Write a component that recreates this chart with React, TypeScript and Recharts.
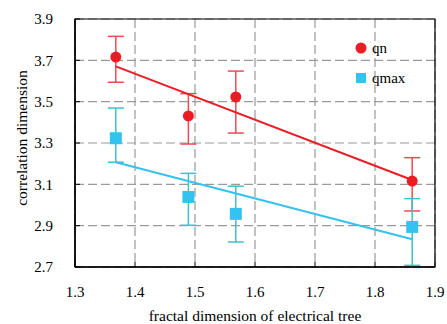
import { ScatterChart, Scatter, XAxis, YAxis, CartesianGrid, ErrorBar, ReferenceArea } from "recharts";

const fractalDim = [1.368, 1.489, 1.568, 1.862];

const qnValues = [3.716, 3.431, 3.523, 3.116];
const qnErrLow = [0.122, 0.136, 0.175, 0.145];
const qnErrHigh = [0.1, 0.108, 0.125, 0.113];

const qmaxValues = [3.323, 3.039, 2.957, 2.894];
const qmaxErrLow = [0.116, 0.137, 0.136, 0.186];
const qmaxErrHigh = [0.146, 0.114, 0.134, 0.137];

// fit line end points
const fitX = [1.368, 1.862];
const qnFitY = [3.671, 3.121];
const qmaxFitY = [3.207, 2.834];

const xTicks = [1.3, 1.4, 1.5, 1.6, 1.7, 1.8, 1.9];
const yTicks = [2.7, 2.9, 3.1, 3.3, 3.5, 3.7, 3.9];

const RED = "#ec1c24";
const BLUE = "#33c3ee";

const qnData = fractalDim.map((x, i) => ({ x, y: qnValues[i], err: [qnErrLow[i], qnErrHigh[i]] }));
const qmaxData = fractalDim.map((x, i) => ({ x, y: qmaxValues[i], err: [qmaxErrLow[i], qmaxErrHigh[i]] }));
const qnFit = fitX.map((x, i) => ({ x, y: qnFitY[i] }));
const qmaxFit = fitX.map((x, i) => ({ x, y: qmaxFitY[i] }));

const font = "'Liberation Serif', 'Times New Roman', serif";

function LegendBox() {
  return (
    <div style={{ position: "absolute", left: 355, top: 33, fontFamily: font, fontSize: 15, color: "#000" }}>
      <div style={{ display: "flex", alignItems: "center", height: 30 }}>
        <svg width={12} height={12} style={{ marginRight: 5 }}>
          <circle cx={6} cy={6} r={5.5} fill={RED} />
        </svg>
        qn
      </div>
      <div style={{ display: "flex", alignItems: "center", height: 30 }}>
        <svg width={12} height={12} style={{ marginRight: 5 }}>
          <rect x={1} y={1} width={10} height={10} fill={BLUE} />
        </svg>
        qmax
      </div>
    </div>
  );
}

const YTitle = (props: any) => {
  const vb = props.viewBox || {};
  const cx = 21;
  const cy = (vb.y ?? 19) + (vb.height ?? 248) / 2 - 5;
  return (
    <text x={cx} y={cy} transform={`rotate(-90 ${cx} ${cy})`} textAnchor="middle" dominantBaseline="central" fill="#000" fontFamily={font} fontSize={15.5}>
      correlation dimension
    </text>
  );
};

export default function App() {
  return (
    <div style={{ position: "absolute", left: 0, top: 0, width: 447, height: 324, background: "#fff", fontFamily: font }}>
      <ScatterChart width={447} height={324} margin={{ top: 19, right: 12, bottom: 0, left: 0 }} style={{ fontFamily: font }}>
        <CartesianGrid stroke="#9a9a9a" strokeDasharray="9 4" strokeWidth={1.2} />
        <XAxis
          type="number"
          dataKey="x"
          domain={[1.3, 1.9]}
          ticks={xTicks}
          tickFormatter={(v: number) => v.toFixed(1)}
          height={57}
          tickSize={-5}
          tickMargin={24}
          axisLine={{ stroke: "#000", strokeWidth: 1.5 }}
          tickLine={{ stroke: "#000" }}
          tick={{ fill: "#000", fontFamily: font, fontSize: 15 }}
          label={{ value: "fractal dimension of electrical tree", position: "insideBottom", offset: 3, fill: "#000", fontFamily: font, fontSize: 15.5 }}
          allowDataOverflow
        />
        <YAxis
          type="number"
          dataKey="y"
          domain={[2.7, 3.9]}
          ticks={yTicks}
          tickFormatter={(v: number) => v.toFixed(1)}
          width={75}
          tickSize={-5}
          tickMargin={27}
          axisLine={{ stroke: "#000", strokeWidth: 1.5 }}
          tickLine={{ stroke: "#000" }}
          tick={{ fill: "#000", fontFamily: font, fontSize: 15 }}
          label={{ content: YTitle }}
          allowDataOverflow
        />
        <ReferenceArea x1={1.3} x2={1.9} y1={2.7} y2={3.9} fill="none" stroke="#000" strokeWidth={1.2} />
        <Scatter data={qnFit} line={{ stroke: RED, strokeWidth: 2 }} shape={() => null} legendType="none" isAnimationActive={false} />
        <Scatter data={qmaxFit} line={{ stroke: BLUE, strokeWidth: 2 }} shape={() => null} legendType="none" isAnimationActive={false} />
        <Scatter
          name="qn"
          data={qnData}
          isAnimationActive={false}
          shape={(p: any) => <circle cx={p.cx} cy={p.cy} r={5.5} fill={RED} />}
        >
          <ErrorBar dataKey="err" direction="y" width={8} stroke="#ee4a55" strokeWidth={1.5} />
        </Scatter>
        <Scatter
          name="qmax"
          data={qmaxData}
          isAnimationActive={false}
          shape={(p: any) => <rect x={p.cx - 6} y={p.cy - 6} width={12} height={12} fill={BLUE} />}
        >
          <ErrorBar dataKey="err" direction="y" width={8} stroke="#3cc2c8" strokeWidth={1.5} />
        </Scatter>
      </ScatterChart>
      <LegendBox />
    </div>
  );
}
